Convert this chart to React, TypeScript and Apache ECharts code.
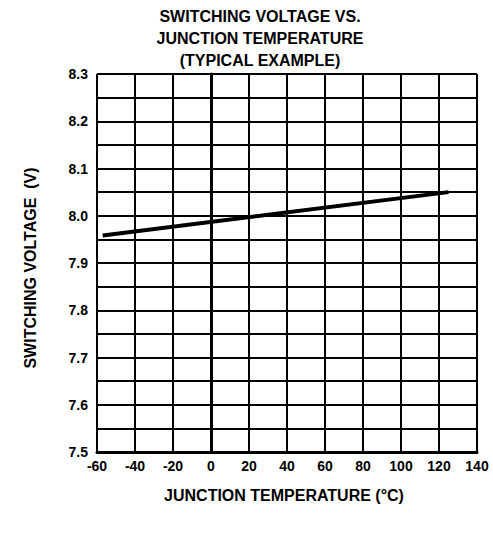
import React, { useEffect, useRef } from "react";
import * as echarts from "echarts";

const titleLines = ["SWITCHING VOLTAGE VS.", "JUNCTION TEMPERATURE", "(TYPICAL EXAMPLE)"];
const xAxisTitle = "JUNCTION TEMPERATURE (\u00B0C)";
const yAxisTitle = "SWITCHING VOLTAGE  (V)";
const temperatures = [-57, 125];
const voltages = [7.958, 8.05];

const FONT = "'Liberation Sans', Arial, sans-serif";

export default function App() {
  const ref = useRef<HTMLDivElement>(null);
  useEffect(() => {
    document.body.style.margin = "0";
    const chart = echarts.init(ref.current!, null, { renderer: "svg" });
    const lineData = temperatures.map((t, i) => [t, voltages[i]]);
    chart.setOption({
      animation: false,
      backgroundColor: "#ffffff",
      grid: { left: 97, right: 16, top: 74, bottom: 82, containLabel: false },
      xAxis: {
        type: "value",
        min: -60,
        max: 140,
        interval: 20,
        axisLine: { show: true, lineStyle: { color: "#000", width: 3 } },
        axisTick: { show: false },
        axisLabel: { color: "#000", fontFamily: FONT, fontWeight: "bold", fontSize: 14, margin: 7 },
        splitLine: { show: true, lineStyle: { color: "#000", width: 2 } },
      },
      yAxis: {
        type: "value",
        min: 7.5,
        max: 8.3,
        interval: 0.05,
        axisLine: { show: true, lineStyle: { color: "#000", width: 3 } },
        axisTick: { show: false },
        axisLabel: {
          color: "#000",
          fontFamily: FONT,
          fontWeight: "bold",
          fontSize: 14,
          margin: 9,
          formatter: (v: number) => (Math.round(v * 100) % 10 === 0 ? v.toFixed(1) : ""),
        },
        splitLine: { show: true, lineStyle: { color: "#000", width: 2 } },
      },
      series: [
        {
          type: "line",
          data: lineData,
          showSymbol: false,
          lineStyle: { color: "#000", width: 4 },
        },
      ],
      graphic: [
        ...titleLines.map((t, i) => ({
          type: "text",
          x: 260,
          y: 16 + i * 22,
          style: {
            text: t,
            fill: "#000",
            font: `bold 16px ${FONT}`,
            textAlign: "center",
            textVerticalAlign: "middle",
          },
        })),
        {
          type: "text",
          x: 284,
          y: 495,
          style: {
            text: xAxisTitle,
            fill: "#000",
            font: `bold 16px ${FONT}`,
            textAlign: "center",
            textVerticalAlign: "middle",
          },
        },
        {
          type: "text",
          x: 30,
          y: 268,
          rotation: Math.PI / 2,
          style: {
            text: yAxisTitle,
            fill: "#000",
            font: `bold 16px ${FONT}`,
            textAlign: "center",
            textVerticalAlign: "middle",
          },
        },
      ],
    });
    return () => chart.dispose();
  }, []);
  return <div ref={ref} style={{ width: 493, height: 534 }} />;
}
